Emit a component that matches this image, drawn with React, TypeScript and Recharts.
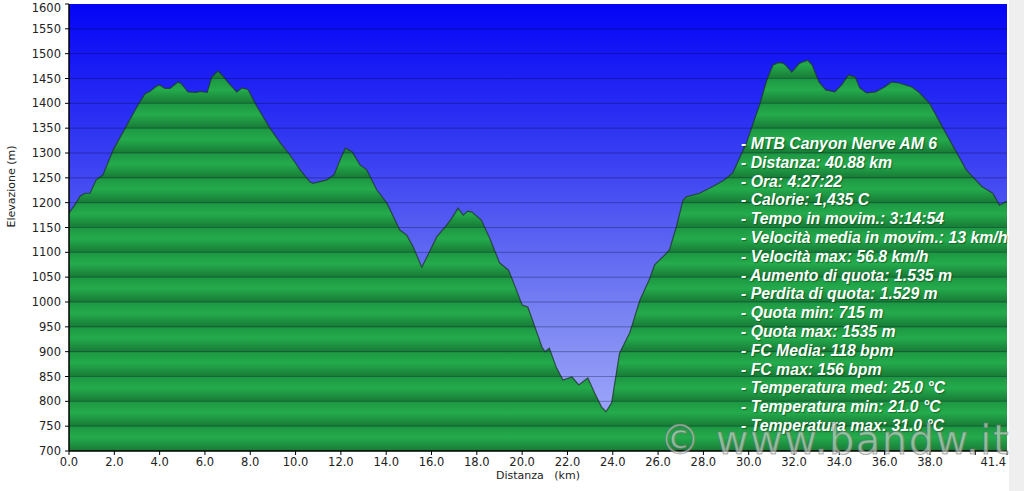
import React from 'react';
import {
  AreaChart,
  Area,
  XAxis,
  YAxis,
  CartesianGrid,
  ReferenceLine
} from 'recharts';

// elevation profile
const distKm = [
  0.0, 0.25, 0.49, 0.7, 0.93, 1.2, 1.5, 1.95, 2.3, 2.6, 3.0, 3.35, 3.6, 3.87, 4.0, 4.24, 4.46, 4.8, 4.95,
  5.25, 5.6, 5.8, 6.1, 6.3, 6.57, 6.8, 7.0, 7.2, 7.4, 7.63, 7.9, 8.3, 8.87, 9.3, 9.75, 10.2, 10.63, 10.77,
  11.38, 11.7, 12.0, 12.2, 12.5, 12.84, 13.14, 13.58, 14.03, 14.6, 14.9, 15.2, 15.57, 15.9, 16.23, 16.6,
  16.9, 17.17, 17.4, 17.6, 17.78, 18.2, 18.6, 19.0, 19.4, 19.7, 20.0, 20.25, 20.6, 20.87, 21.0, 21.2, 21.5,
  21.8, 22.2, 22.5, 22.9, 23.2, 23.5, 23.7, 23.95, 24.3, 24.75, 25.2, 25.6, 25.85, 26.3, 26.5, 26.8, 27.1,
  27.25, 27.83, 28.4, 28.9, 29.3, 29.9, 30.5, 30.8, 31.07, 31.3, 31.5, 31.65, 31.9, 32.25, 32.6, 32.8, 33.1,
  33.4, 33.8, 34.1, 34.4, 34.7, 34.9, 35.2, 35.6, 36.0, 36.3, 36.65, 37.2, 37.5, 37.98, 38.7, 39.6, 40.3,
  40.77, 41.07, 41.3, 41.4
];
const elevM = [
  1179, 1195, 1213, 1219, 1219, 1246, 1256, 1306, 1335, 1360, 1393, 1419, 1425, 1435, 1437, 1430, 1430, 1443, 1440,
  1423, 1422, 1424, 1422, 1453, 1465, 1455, 1443, 1433, 1423, 1431, 1428, 1393, 1350, 1322, 1296, 1266, 1242, 1239,
  1246, 1256, 1290, 1310, 1302, 1276, 1266, 1226, 1199, 1145, 1135, 1110, 1070, 1100, 1131, 1151,
  1169, 1189, 1175, 1183, 1181, 1165, 1125, 1079, 1064, 1030, 994, 990, 945, 910, 900, 907, 869,
  843, 849, 833, 847, 817, 789, 779, 797, 897, 938, 1004, 1044, 1075, 1095, 1105, 1150, 1205,
  1212, 1219, 1232, 1245, 1260, 1320, 1400, 1447, 1477, 1482, 1481, 1476, 1463, 1481, 1487, 1477, 1443,
  1427, 1423, 1437, 1457, 1453, 1431, 1421, 1423, 1433, 1443, 1441, 1433, 1423, 1400, 1340, 1266, 1232,
  1219, 1195, 1201, 1203
];

const yTicks = [700, 750, 800, 850, 900, 950, 1000, 1050, 1100, 1150, 1200, 1250, 1300, 1350, 1400, 1450, 1500, 1550, 1600];
const xTicks = [0, 2, 4, 6, 8, 10, 12, 14, 16, 18, 20, 22, 24, 26, 28, 30, 32, 34, 36, 38, 40, 41.4];

const infoLines = [
  '- MTB Canyon Nerve AM 6',
  '- Distanza: 40.88 km',
  '- Ora: 4:27:22',
  '- Calorie: 1,435 C',
  '- Tempo in movim.: 3:14:54',
  '- Velocità media in movim.: 13 km/h',
  '- Velocità max: 56.8 km/h',
  '- Aumento di quota: 1.535 m',
  '- Perdita di quota: 1.529 m',
  '- Quota min: 715 m',
  '- Quota max: 1535 m',
  '- FC Media: 118 bpm',
  '- FC max: 156 bpm',
  '- Temperatura med: 25.0 °C',
  '- Temperatura min: 21.0 °C',
  '- Temperatura max: 31.0 °C'
];

const data = distKm.map((d, i) => ({ km: d, elev: elevM[i] }));

const W = 1024;
const H = 491;
const PLOT_TOP = 4;
const PLOT_BOTTOM = 451;
const font = '"DejaVu Sans", Verdana, sans-serif';

// green stripes: one gradient band per 50 m
const bands = yTicks.length - 1;
const greenStops: React.ReactNode[] = [];
for (let i = 0; i < bands; i++) {
  const a = i / bands;
  const b = (i + 1) / bands;
  greenStops.push(<stop key={`a${i}`} offset={a} stopColor="#1d9642" />);
  greenStops.push(<stop key={`b${i}`} offset={a + (b - a) * 0.45} stopColor="#24ab4c" />);
  greenStops.push(<stop key={`c${i}`} offset={b - 0.0005} stopColor="#187b36" />);
}

const XTick = (props: any) => {
  const { x, y, payload } = props;
  const v = payload.value;
  if (v === 40) return <g />;
  const last = v === 41.4;
  return (
    <text
      x={last ? x - 1 : x}
      y={y}
      dy="0.71em"
      textAnchor={last ? 'end' : 'middle'}
      fill="#222"
      fontSize={11.5}
      fontFamily={font}
    >
      {v.toFixed(1)}
    </text>
  );
};

const YTick = (props: any) => {
  const { x, y, payload } = props;
  const v = payload.value;
  // top label is kept inside the picture
  const yy = v === 1600 ? y + 4 : y;
  return (
    <text x={x} y={yy} dy="0.36em" textAnchor="end" fill="#222" fontSize={11.5} fontFamily={font}>
      {v}
    </text>
  );
};

export default function App() {
  return (
    <div style={{ position: 'absolute', left: 0, top: 0, width: W, height: H, background: '#fff', overflow: 'hidden' }}>
      <AreaChart
        width={W}
        height={H}
        data={data}
        margin={{ top: PLOT_TOP, right: 17, bottom: 0, left: 8 }}
      >
        <defs>
          <linearGradient id="sky" x1="0" y1="0" x2="0" y2="1">
            <stop offset="0%" stopColor="#0404f6" />
            <stop offset="35%" stopColor="#3a40f2" />
            <stop offset="70%" stopColor="#7a84f2" />
            <stop offset="100%" stopColor="#aab2fc" />
          </linearGradient>
          <linearGradient id="hills" gradientUnits="userSpaceOnUse" x1="0" y1={PLOT_TOP} x2="0" y2={PLOT_BOTTOM}>
            {greenStops}
          </linearGradient>
        </defs>
        <CartesianGrid horizontal={false} vertical={false} fill="url(#sky)" stroke="none" />
        <XAxis
          dataKey="km"
          type="number"
          domain={[0, 41.4]}
          ticks={xTicks}
          interval={0}
          height={40}
          tickSize={4}
          tickMargin={3}
          axisLine={{ stroke: '#000', strokeWidth: 1.5 }}
          tickLine={{ stroke: '#000' }}
          tick={<XTick />}
          label={{ value: 'Distanza\u00a0\u00a0\u00a0(km)', position: 'insideBottom', offset: 12, fill: '#222', fontSize: 11, fontFamily: font }}
        />
        <YAxis
          type="number"
          domain={[700, 1600]}
          ticks={yTicks}
          interval={0}
          width={61}
          tickSize={4}
          tickMargin={4}
          axisLine={{ stroke: '#000', strokeWidth: 1.5 }}
          tickLine={{ stroke: '#000' }}
          tick={<YTick />}
          label={{ value: 'Elevazione (m)', angle: -90, position: 'insideLeft', offset: 3, fill: '#222', fontSize: 11, fontFamily: font }}
        />
        <Area
          type="linear"
          dataKey="elev"
          baseValue={700}
          stroke="#1f3a2a"
          strokeOpacity={0.8}
          strokeWidth={1.2}
          fill="url(#hills)"
          fillOpacity={1}
          isAnimationActive={false}
          dot={false}
          activeDot={false}
        />
        {yTicks.slice(1, -1).map((t) => (
          <ReferenceLine key={t} y={t} stroke="rgba(0,10,40,0.32)" strokeWidth={1} />
        ))}
      </AreaChart>

      <div style={{ position: 'absolute', left: 1009, top: 0, width: 15, height: H, background: '#efefef' }} />

      <div
        style={{
          position: 'absolute',
          left: 741,
          top: 135,
          color: '#fff',
          fontFamily: '"Liberation Sans", Arial, sans-serif',
          fontWeight: 'bold',
          fontStyle: 'italic',
          fontSize: 15.8,
          lineHeight: '18.8px',
          whiteSpace: 'pre',
          textShadow: '1px 1px 1px rgba(0,40,0,0.45)'
        }}
      >
        {infoLines.map((l) => (
          <div key={l}>{l}</div>
        ))}
      </div>

      <div
        style={{
          position: 'absolute',
          left: 660,
          top: 417,
          fontFamily: font,
          fontSize: 40,
          letterSpacing: 1.5,
          color: 'rgba(215,220,215,0.6)',
          WebkitTextStroke: '1px rgba(110,110,110,0.55)',
          whiteSpace: 'pre'
        }}
      >
        © www.bandw.it
      </div>
    </div>
  );
}
